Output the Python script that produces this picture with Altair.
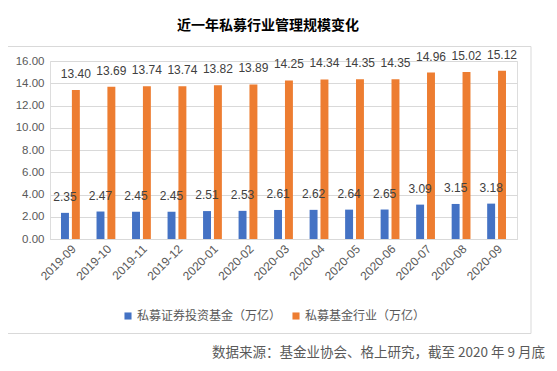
import altair as alt
import pandas as pd

months = ["2019-09", "2019-10", "2019-11", "2019-12", "2020-01", "2020-02", "2020-03",
          "2020-04", "2020-05", "2020-06", "2020-07", "2020-08", "2020-09"]
securities = [2.35, 2.47, 2.45, 2.45, 2.51, 2.53, 2.61, 2.62, 2.64, 2.65, 3.09, 3.15, 3.18]
industry = [13.40, 13.69, 13.74, 13.74, 13.82, 13.89, 14.25, 14.34, 14.35, 14.35, 14.96, 15.02, 15.12]
series_names = ["私募证券投资基金（万亿）", "私募基金行业（万亿）"]
colors = ["#4472C4", "#ED7D31"]
y_ticks = [0, 2, 4, 6, 8, 10, 12, 14, 16]
title_text = "近一年私募行业管理规模变化"
source_text = "数据来源：基金业协会、格上研究，截至 2020 年 9 月底"

rows = []
for m, s, i in zip(months, securities, industry):
    rows.append({"month": m, "series": series_names[0], "value": s})
    rows.append({"month": m, "series": series_names[1], "value": i})
df = pd.DataFrame(rows)

CJK = "Noto Sans CJK SC"
NUM = "Liberation Sans"
GRAY = "#595959"

x_enc = alt.X("month:N", sort=months,
              scale=alt.Scale(paddingInner=0.47, paddingOuter=0.31),
              axis=alt.Axis(title=None, labelAngle=-45, labelFont=NUM, labelFontSize=12,
                            labelColor=GRAY, ticks=False, domainColor="#d9d9d9",
                            labelPadding=4, grid=False))
xoff_enc = alt.XOffset("series:N", sort=series_names,
                       scale=alt.Scale(paddingInner=0.27, paddingOuter=0))
y_enc = alt.Y("value:Q",
              scale=alt.Scale(domain=[0, 16], nice=False),
              axis=alt.Axis(title=None, values=y_ticks, format=".2f", labelFont=NUM,
                            labelFontSize=11.5, labelColor=GRAY, ticks=False, domain=False,
                            gridColor="#d9d9d9", labelPadding=6))

base = alt.Chart(df)

bars = base.mark_bar().encode(
    x=x_enc, xOffset=xoff_enc, y=y_enc,
    color=alt.Color("series:N", sort=series_names,
                    scale=alt.Scale(domain=series_names, range=colors),
                    legend=alt.Legend(title=None, orient="none", legendX=72, legendY=249,
                                      direction="horizontal", symbolType="square",
                                      symbolSize=50, symbolStrokeWidth=0,
                                      labelFont=CJK, labelFontSize=12, labelColor=GRAY,
                                      columnPadding=8, labelOffset=3)),
)

labels = base.mark_text(dy=-16, baseline="middle", font=NUM, fontSize=12,
                        color="#404040").encode(
    x=x_enc, xOffset=xoff_enc, y=y_enc,
    text=alt.Text("value:Q", format=".2f"),
)

one = alt.Data(values=[{"k": 1}])

frame = alt.Chart(one).mark_rect(fill="white", fillOpacity=0, stroke="#d9d9d9",
                                 strokeWidth=1).encode(
    x=alt.value(-46), x2=alt.value(481), y=alt.value(-14.5), y2=alt.value(272.5)
)

title = alt.Chart(one).mark_text(align="center", baseline="middle", font=CJK, fontSize=14,
                                 fontWeight="bold", color="#000000", text=title_text).encode(
    x=alt.value(218), y=alt.value(-35)
)

source = alt.Chart(one).mark_text(align="right", baseline="middle", font=CJK, fontSize=13.5,
                                  color=GRAY, text=source_text).encode(
    x=alt.value(495), y=alt.value(292)
)

chart = alt.layer(frame, bars, labels, title, source).properties(
    width=467, height=178,
    autosize=alt.AutoSizeParams(type="none"),
    padding={"left": 42, "top": 53, "right": 30, "bottom": 125},
).configure_view(stroke=None).configure(background="white")

chart.save("out.html", embed_options={"renderer": "svg", "actions": False})
